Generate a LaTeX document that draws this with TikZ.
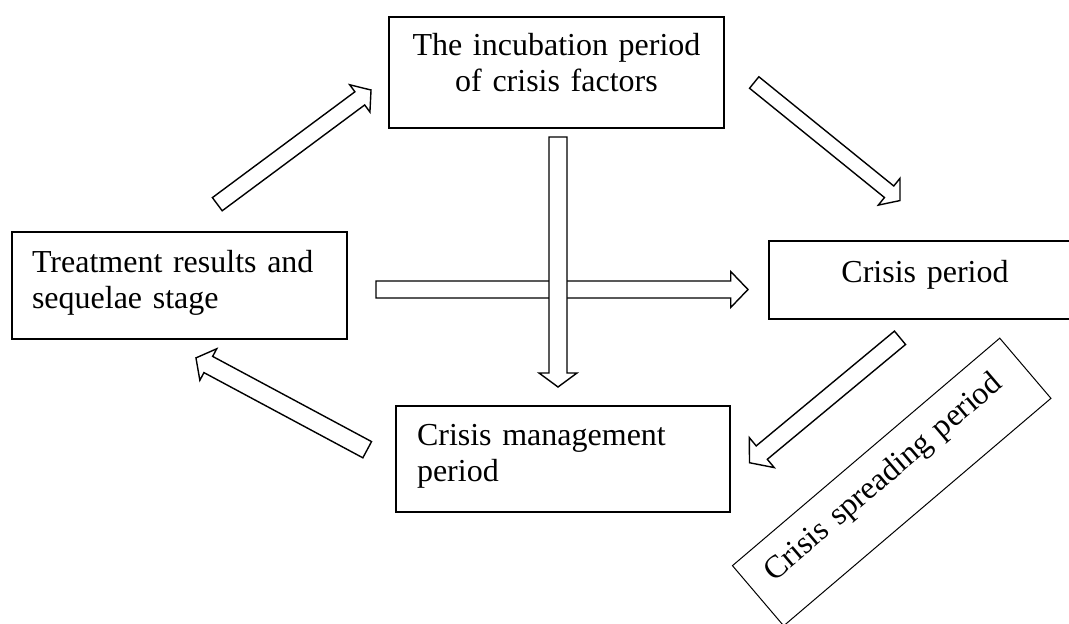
\documentclass[tikz,border=0pt]{standalone}
\usepackage{fontspec}
\setmainfont{Liberation Serif}
\tikzset{
  box/.style={draw, line width=1.2pt, inner ysep=0pt, outer sep=0pt,
    font=\fontsize{32}{36.6}\selectfont},
  arr/.style={draw, fill=white, line width=1.4pt, line join=miter},
}
% #1,#2 tail centre, #3 angle, #4 shaft length, #5 shaft half width,
% #6 head half width, #7 head length
\newcommand\blockarrow[7]{%
  \begin{scope}[shift={(#1,#2)}, rotate=#3]
    \path[arr] (0,#5) -- (#4,#5) -- (#4,#6) -- ({#4+#7},0) -- (#4,-#6)
      -- (#4,-#5) -- (0,-#5) -- cycle;
  \end{scope}}
\begin{document}
\begin{tikzpicture}[x=1pt, y=-1pt]
\useasboundingbox (0,0) rectangle (1069,624);
\clip (0,0) rectangle (1069,624);

\node[box, anchor=north west, text width=335pt, inner xsep=0pt, align=center,
  text height=38pt, text depth=73pt] (incub) at (389,17)
  {The incubation period\\of crisis factors};

\node[box, anchor=north west, text width=295pt, inner xsep=20pt, align=left,
  text height=40.3pt, text depth=66.7pt] (treat) at (12,232)
  {Treatment results and\\sequelae stage};

\node[box, anchor=north west, text width=312pt, inner xsep=0pt, align=center,
  text height=41pt, text depth=37pt] (crisis) at (769,241)
  {Crisis period};

\node[box, anchor=north west, text width=292pt, inner xsep=21pt, align=left,
  text height=39pt, text depth=67pt] (manage) at (396,406)
  {Crisis management\\period};

\node[box, line width=1pt, rotate=40.4, text width=309pt, inner xsep=21pt,
  align=left, text height=39.5pt, text depth=39.5pt] (spread) at (891.7,482)
  {Crisis spreading period};

% block arrows
\blockarrow{376}{289.5}{0}{354.7}{8.5}{18}{17.3}
\blockarrow{558}{137}{-90}{236}{9}{19}{14}
\blockarrow{217.3}{204.2}{36.6}{177.5}{8.2}{17}{14}
\blockarrow{367.2}{449.7}{151.8}{180.3}{9.2}{17.9}{14}
\blockarrow{754.2}{82.5}{-39}{173.6}{7.4}{17.2}{14}
\blockarrow{900}{337.8}{-140.3}{179.7}{8.7}{19.5}{15.9}
\end{tikzpicture}
\end{document}
